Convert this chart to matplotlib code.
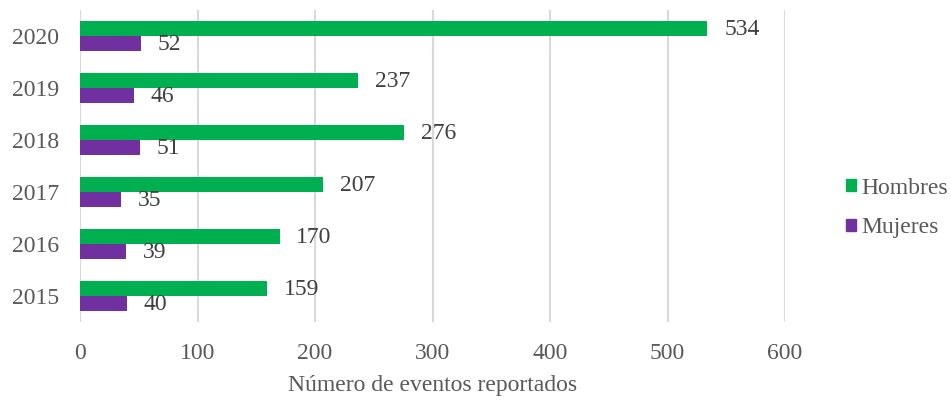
import numpy as np
import matplotlib.pyplot as plt
from matplotlib.patches import Patch

years = ['2015', '2016', '2017', '2018', '2019', '2020']
hombres = [159, 170, 207, 276, 237, 534]
mujeres = [40, 39, 35, 51, 46, 52]

green = '#00B050'
purple = '#7030A0'
txt = '#595959'

plt.rcParams['font.family'] = ['Liberation Serif', 'DejaVu Serif']

fig = plt.figure(figsize=(9.51, 4.01), dpi=100)
ax = fig.add_axes([80 / 951, 1 - 322 / 401, 705 / 951, 312 / 401])

y = np.arange(len(years))
h = 0.286
ax.barh(y + h / 2, hombres, height=h, color=green, label='Hombres')
ax.barh(y - h / 2, mujeres, height=h, color=purple, label='Mujeres')

for yy, v in zip(y, hombres):
    ax.annotate(str(v), (v, yy + h / 2), xytext=(12, -1), textcoords='offset points',
                va='center', ha='left', fontsize=17, color='#404040')
for yy, v in zip(y, mujeres):
    ax.annotate(str(v), (v, yy - h / 2), xytext=(12, -1), textcoords='offset points',
                va='center', ha='left', fontsize=17, color='#404040')

ax.set_xlim(0, 600)
ax.set_ylim(-0.5, 5.5)
ax.set_xticks(range(0, 601, 100))
ax.set_yticks(y)
ax.set_yticklabels(years)
ax.tick_params(axis='both', length=0, labelsize=17, colors=txt)
ax.tick_params(axis='x', pad=15)
ax.tick_params(axis='y', pad=15)
ax.grid(axis='x', color='#D9D9D9', linewidth=1.5)
ax.set_axisbelow(True)
for s in ax.spines.values():
    s.set_visible(False)
ax.set_xlabel('Número de eventos reportados', fontsize=17, color=txt, labelpad=8)

handles = [Patch(color=green), Patch(color=purple)]
fig.legend(handles, ['Hombres', 'Mujeres'], loc='center left',
           bbox_to_anchor=(846 / 951, 1 - 208 / 401), frameon=False,
           borderpad=0, borderaxespad=0,
           fontsize=17, labelcolor=txt, handlelength=0.42, handleheight=0.42,
           handletextpad=0.25, labelspacing=0.8)

fig.savefig('out.png', dpi=100)
